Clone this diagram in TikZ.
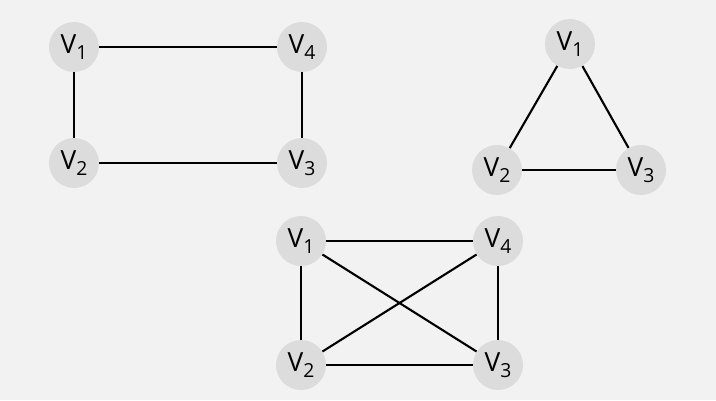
\documentclass[tikz,border=0pt]{standalone}
\usepackage{fontspec}
\setmainfont{Open Sans}
\definecolor{bgcol}{HTML}{F2F2F2}
\definecolor{vcol}{HTML}{DCDCDC}
\newcommand{\vx}[1]{V\raisebox{-0.45ex}{\fontsize{11}{12}\selectfont #1}}
\tikzset{
	vert/.style={circle, fill=vcol, minimum size=1cm, inner sep=0pt, font=\fontsize{15}{17}\selectfont},
	edge/.style={line width=1.2pt, black}
}
\begin{document}
\begin{tikzpicture}[x=0.02cm, y=-0.02cm]
		\fill[bgcol] (0,0) rectangle (716,400);
		\useasboundingbox (0,0) rectangle (716,400);
		% square
		\node[vert] (a1) at (74,47) {\vx{1}};
		\node[vert] (a4) at (302,47) {\vx{4}};
		\node[vert] (a2) at (74,163) {\vx{2}};
		\node[vert] (a3) at (302,163) {\vx{3}};
		\draw[edge] (a1)--(a4);
		\draw[edge] (a1)--(a2);
		\draw[edge] (a2)--(a3);
		\draw[edge] (a4)--(a3);
		% triangle
		\node[vert] (b1) at (570,44) {\vx{1}};
		\node[vert] (b2) at (497,170) {\vx{2}};
		\node[vert] (b3) at (641,170) {\vx{3}};
		\draw[edge] (b1)--(b2);
		\draw[edge] (b1)--(b3);
		\draw[edge] (b2)--(b3);
		% complete
		\node[vert] (c1) at (301,241) {\vx{1}};
		\node[vert] (c4) at (498,241) {\vx{4}};
		\node[vert] (c2) at (301,365) {\vx{2}};
		\node[vert] (c3) at (498,365) {\vx{3}};
		\draw[edge] (c1)--(c4);
		\draw[edge] (c1)--(c2);
		\draw[edge] (c2)--(c3);
		\draw[edge] (c4)--(c3);
		\draw[edge] (c1)--(c3);
		\draw[edge] (c4)--(c2);
	\end{tikzpicture}
\end{document}
